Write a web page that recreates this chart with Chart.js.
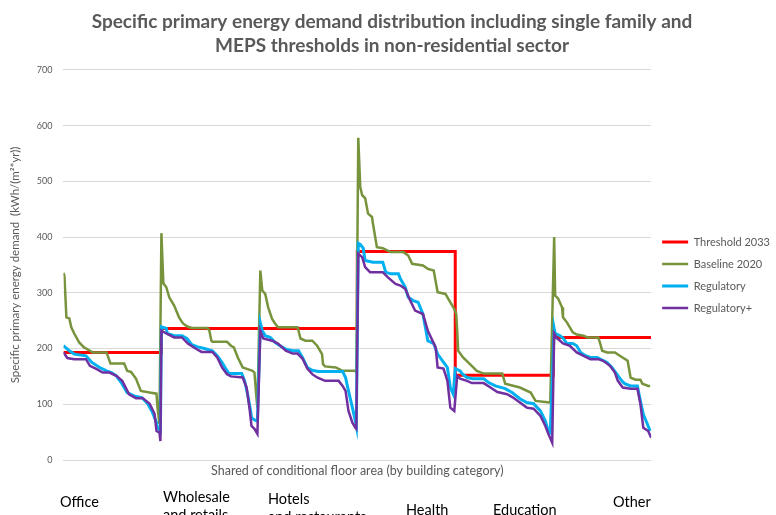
<!DOCTYPE html>
<html>
<head>
<meta charset="utf-8">
<script src="https://cdn.jsdelivr.net/npm/chart.js@4.4.1/dist/chart.umd.min.js"></script>
<style>
  html, body { margin: 0; padding: 0; background: #ffffff; }
  #wrap { position: relative; width: 776px; height: 515px; overflow: hidden; font-family: Lato, "Noto Sans", sans-serif; }
  canvas { display: block; }
  .cat { position: absolute; font-size: 14.5px; line-height: 18px; color: #000; white-space: nowrap; }
</style>
</head>
<body>
<div id="wrap">
  <canvas id="c" width="776" height="515"></canvas>
  <div class="cat" style="left:60px; top:493px;">Office</div>
  <div class="cat" style="left:163px; top:488px;">Wholesale<br>and retails</div>
  <div class="cat" style="left:268px; top:490px;">Hotels<br>and restaurants</div>
  <div class="cat" style="left:406px; top:501px;">Health</div>
  <div class="cat" style="left:493px; top:501px;">Education</div>
  <div class="cat" style="left:613px; top:493px;">Other</div>
</div>
<script>
// ---- Data (x = share of floor area within a category, 0..100; y = kWh/(m²*yr)) ----
const categories = ['Office', 'Wholesale and retails', 'Hotels and restaurants', 'Health', 'Education', 'Other'];
const seriesNames = ['Threshold 2033', 'Baseline 2020', 'Regulatory', 'Regulatory+'];
const yTicks = [0, 100, 200, 300, 400, 500, 600, 700];

const threshold2033 = [193, 236, 236, 374, 152, 220];

const baselineOffice = [[0,336],[1,330],[3,256],[6,254],[8,238],[11,227],[16,211],[21,202],[27,196],[30,193],[44,193],[48,173],[62,173],[65,160],[69,158],[74,146],[79,124],[88,121],[95,119],[96,94],[98,65]];
const regulatoryOffice = [[0,205],[6,196],[11,190],[23,187],[29,175],[37,166],[44,160],[49,157],[54,151],[59,139],[65,121],[72,115],[80,112],[86,101],[91,85],[95,67],[96,58],[99,52]];
const regulatoryPlusOffice = [[0,193],[4,183],[11,181],[23,181],[27,169],[34,163],[40,157],[47,157],[54,151],[60,142],[67,118],[74,111],[81,111],[88,101],[93,83],[95,52],[98,49],[99,34]];

const baselineWholesale = [[0,407],[2,317],[5,310],[8,292],[13,277],[18,256],[22,245],[27,239],[31,237],[47,237],[49,232],[51,214],[52,212],[67,212],[71,205],[74,202],[78,184],[83,166],[88,163],[93,160],[95,157],[97,112],[98,94]];
const regulatoryWholesale = [[0,239],[5,236],[6,227],[13,223],[21,223],[26,218],[31,207],[37,203],[44,200],[52,196],[57,187],[62,175],[66,163],[69,155],[82,155],[85,142],[88,118],[91,89],[92,76],[95,72],[98,70]];
const regulatoryPlusWholesale = [[0,232],[5,227],[13,220],[21,220],[27,209],[34,201],[41,194],[52,194],[57,184],[62,166],[67,154],[71,150],[83,148],[87,130],[90,92],[92,61],[95,56],[98,47]];

const baselineHotels = [[1,340],[3,304],[6,298],[9,274],[13,253],[16,245],[19,238],[39,238],[40,232],[42,218],[47,214],[54,214],[59,205],[64,190],[65,172],[67,168],[78,166],[85,160],[98,160],[99,157]];
const regulatoryHotels = [[1,246],[3,232],[6,223],[11,220],[16,211],[21,205],[27,199],[34,196],[40,196],[44,184],[49,166],[54,161],[60,159],[85,159],[88,148],[91,124],[95,94],[98,70],[99,61]];
const regulatoryPlusHotels = [[1,232],[4,218],[13,214],[19,209],[27,196],[34,191],[39,191],[44,182],[49,164],[54,154],[59,148],[67,142],[81,142],[85,133],[88,124],[91,88],[95,67],[98,58],[99,56]];

const baselineHealth = [[1,578],[3,490],[5,475],[8,470],[11,442],[15,436],[16,424],[20,382],[26,380],[34,373],[47,373],[52,367],[56,352],[67,349],[72,343],[78,340],[82,301],[90,298],[95,283],[99,271]];
const regulatoryHealth = [[1,389],[3,387],[6,380],[8,358],[16,355],[26,355],[29,337],[34,334],[42,334],[44,325],[49,310],[52,292],[57,286],[62,283],[67,262],[72,214],[78,209],[82,190],[87,178],[92,166],[95,130],[98,118]];
const regulatoryPlusHealth = [[1,370],[5,364],[8,346],[13,337],[26,337],[31,328],[39,316],[44,313],[49,307],[54,286],[59,268],[67,262],[72,232],[80,202],[82,166],[88,164],[92,142],[95,94],[99,88]];

const baselineEducation = [[1,262],[2,232],[3,196],[8,184],[15,172],[22,160],[29,155],[48,155],[51,137],[66,130],[77,121],[82,106],[97,103]];
const regulatoryEducation = [[0,164],[5,160],[7,155],[12,148],[18,146],[29,146],[34,139],[41,133],[51,128],[58,121],[66,110],[73,103],[80,101],[87,88],[92,70],[95,52],[97,49]];
const regulatoryPlusEducation = [[2,151],[5,146],[12,142],[17,138],[29,138],[36,130],[43,122],[53,118],[59,112],[66,103],[73,94],[80,92],[87,79],[92,61],[95,47],[99,31]];

const baselineOther = [[1,400],[2,295],[5,290],[9,274],[10,256],[14,247],[17,238],[20,229],[24,225],[31,223],[35,220],[46,220],[48,209],[50,196],[55,193],[63,193],[68,187],[76,178],[79,148],[84,144],[89,144],[91,137],[97,133],[99,133]];
const regulatoryOther = [[1,236],[2,227],[7,223],[10,219],[14,209],[20,209],[24,205],[28,193],[33,187],[38,184],[45,184],[48,181],[55,175],[60,166],[65,154],[70,142],[73,137],[79,133],[86,133],[89,106],[92,82],[96,65],[99,52]];
const regulatoryPlusOther = [[1,227],[4,218],[7,214],[10,209],[17,205],[24,193],[31,187],[38,181],[46,181],[51,178],[58,169],[63,157],[66,142],[71,130],[79,128],[86,128],[89,101],[92,58],[97,52],[100,40]];

// ---- Build datasets ----
const baselineParts = [baselineOffice, baselineWholesale, baselineHotels, baselineHealth, baselineEducation, baselineOther];
const regulatoryParts = [regulatoryOffice, regulatoryWholesale, regulatoryHotels, regulatoryHealth, regulatoryEducation, regulatoryOther];
const regulatoryPlusParts = [regulatoryPlusOffice, regulatoryPlusWholesale, regulatoryPlusHotels, regulatoryPlusHealth, regulatoryPlusEducation, regulatoryPlusOther];

function joinParts(parts) {
  return parts.flatMap((seg, i) => seg.map(([s, v]) => ({ x: i * 100 + s, y: v })));
}
const thresholdPoints = threshold2033.flatMap((v, i) => [{ x: i * 100, y: v }, { x: i * 100 + 100, y: v }]);

const colors = ['#FF0000', '#77933C', '#00B0F0', '#7030A0'];
const widths = [3, 2.5, 3, 2.5];
const dataSets = [thresholdPoints, joinParts(baselineParts), joinParts(regulatoryParts), joinParts(regulatoryPlusParts)];

const datasets = seriesNames.map((name, i) => ({
  label: name,
  data: dataSets[i],
  borderColor: colors[i],
  backgroundColor: colors[i],
  borderWidth: widths[i],
  pointRadius: 0,
  pointHoverRadius: 0,
  tension: 0,
  fill: false,
  order: 4 - i,
  pointStyle: 'line'
}));

const gray = '#595959';

new Chart(document.getElementById('c'), {
  type: 'line',
  data: { datasets },
  options: {
    responsive: false,
    animation: false,
    layout: { padding: { left: 4, right: -4, top: 0, bottom: 37 } },
    plugins: {
      title: {
        display: true,
        text: ['Specific primary energy demand distribution including single family and', 'MEPS thresholds in non-residential sector'],
        color: gray,
        font: { family: 'Lato', size: 19, weight: 'bold', lineHeight: 1.26 },
        padding: { top: 10, bottom: 12 }
      },
      legend: {
        position: 'right',
        title: { display: true, text: ' ', font: { size: 10, lineHeight: 1.2 }, padding: { top: 60, bottom: 0 } },
        labels: {
          usePointStyle: true,
          pointStyleWidth: 26,
          boxWidth: 26,
          padding: 11,
          color: gray,
          font: { family: 'Lato', size: 11 },
          sort: (a, b) => a.datasetIndex - b.datasetIndex
        }
      },
      tooltip: { enabled: false }
    },
    scales: {
      x: {
        type: 'linear',
        min: 0,
        max: categories.length * 100,
        ticks: { display: false },
        grid: { display: false, drawTicks: false },
        border: { display: false },
        title: {
          display: true,
          text: 'Shared of conditional floor area (by building category)',
          color: gray,
          font: { family: 'Lato', size: 12.5 },
          padding: { top: 3, bottom: 0 }
        }
      },
      y: {
        min: yTicks[0],
        max: yTicks[yTicks.length - 1],
        afterBuildTicks: (axis) => { axis.ticks = yTicks.map(v => ({ value: v })); },
        ticks: { color: gray, font: { family: 'Lato', size: 9 }, padding: 11 },
        grid: { color: '#D9D9D9', lineWidth: 1, drawTicks: false },
        border: { display: false },
        title: {
          display: true,
          text: 'Specific primary energy demand  (kWh/(m²*yr))',
          color: gray,
          font: { family: 'Lato', size: 11.5 },
          padding: { top: 4, bottom: 4 }
        }
      }
    }
  }
});
</script>
</body>
</html>
